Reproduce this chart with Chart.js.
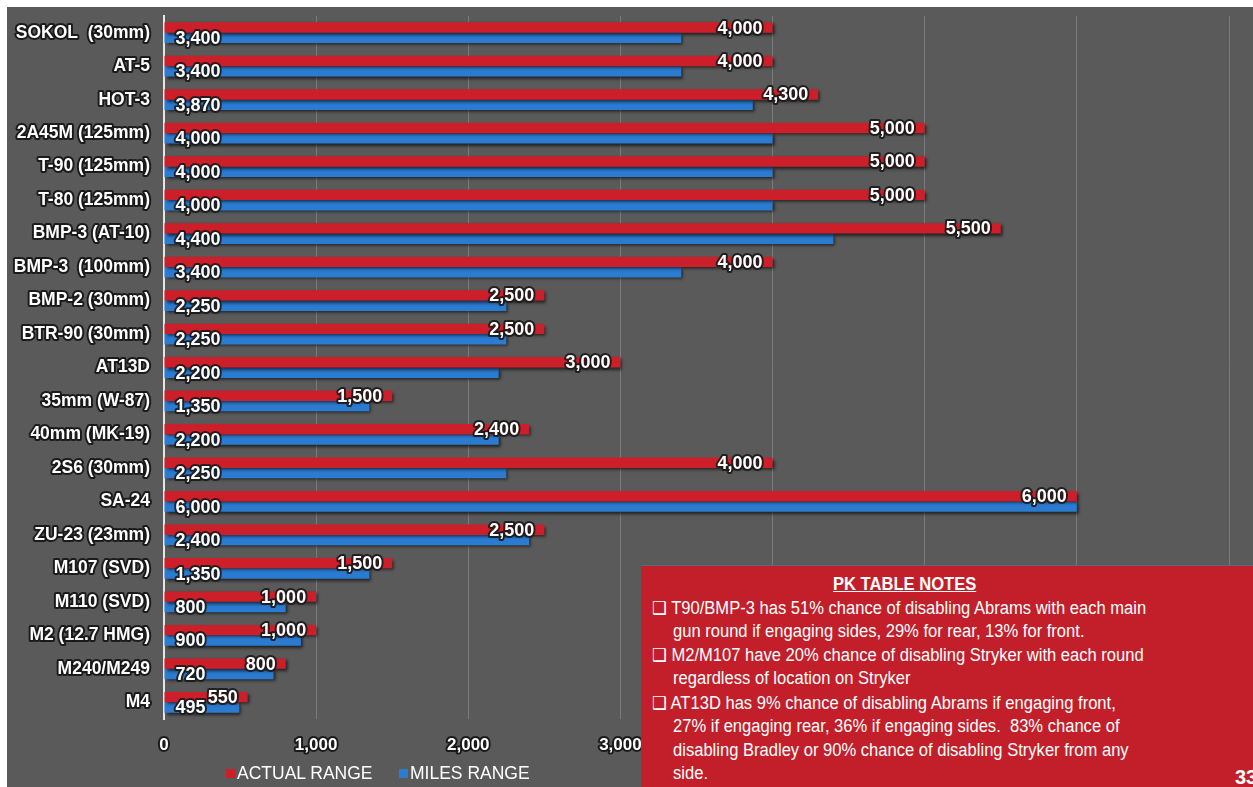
<!DOCTYPE html>
<html>
<head>
<meta charset="utf-8">
<script src="https://cdn.jsdelivr.net/npm/chart.js@4.4.1/dist/chart.umd.min.js"></script>
<style>
  html, body { margin: 0; padding: 0; background: #ffffff; }
  #wrap { position: relative; width: 1253px; height: 787px; overflow: hidden; background: #ffffff; font-family: "Liberation Sans", Arial, sans-serif; }
  #gray { position: absolute; left: 7px; top: 7px; right: 0; bottom: 0; background: #5a5a5a; }
  #cv { position: absolute; left: 0; top: 0; }
  .legend { position: absolute; top: 762px; font-size: 17.5px; color: #ffffff; white-space: nowrap; line-height: 22px; }
  .sw { display: inline-block; width: 9px; height: 9px; margin-right: 2px; vertical-align: 1px; }
  #notes { position: absolute; left: 641px; top: 565px; width: 640px; height: 240px; background: #c21f2a; border-top: 1px solid #4e6f73; color: #ffffff; }
  .ln { position: absolute; left: 0; white-space: nowrap; font-size: 18px; line-height: 22px; transform: scaleX(0.92); transform-origin: 0 50%; }
  .ttl { font-weight: bold; text-decoration: underline; }
  .bul { font-family: "DejaVu Sans", sans-serif; font-size: 18px; }
  #pg { position: absolute; left: 1235px; top: 766px; font-weight: bold; font-size: 20px; color: #fff; }
</style>
</head>
<body>
<div id="wrap">
  <div id="gray"></div>
  <canvas id="cv" width="1253" height="787"></canvas>
  <div class="legend" style="left:226px;"><span class="sw" style="background:#cc1f2a"></span>ACTUAL RANGE</div>
  <div class="legend" style="left:399px;"><span class="sw" style="background:#2b7bd0"></span>MILES RANGE</div>
  <div id="notes">
    <div class="ln ttl" style="left:192px; top:7px;">PK TABLE NOTES</div>
    <div class="ln" style="left:11px; top:31px;"><span class="bul">❑</span> T90/BMP-3 has 51% chance of disabling Abrams with each main</div>
    <div class="ln" style="left:32px; top:54px;">gun round if engaging sides, 29% for rear, 13% for front.</div>
    <div class="ln" style="left:11px; top:78px;"><span class="bul">❑</span> M2/M107 have 20% chance of disabling Stryker with each round</div>
    <div class="ln" style="left:32px; top:101px;">regardless of location on Stryker</div>
    <div class="ln" style="left:11px; top:126px;"><span class="bul">❑</span> AT13D has 9% chance of disabling Abrams if engaging front,</div>
    <div class="ln" style="left:32px; top:149px;">27% if engaging rear, 36% if engaging sides.&nbsp; 83% chance of</div>
    <div class="ln" style="left:32px; top:173px;">disabling Bradley or 90% chance of disabling Stryker from any</div>
    <div class="ln" style="left:32px; top:196px;">side.</div>
  </div>
  <div id="pg">33</div>
</div>
<script>
const categories = [
  "SOKOL  (30mm)", "AT-5", "HOT-3", "2A45M (125mm)", "T-90 (125mm)", "T-80 (125mm)",
  "BMP-3 (AT-10)", "BMP-3  (100mm)", "BMP-2 (30mm)", "BTR-90 (30mm)", "AT13D",
  "35mm (W-87)", "40mm (MK-19)", "2S6 (30mm)", "SA-24", "ZU-23 (23mm)",
  "M107 (SVD)", "M110 (SVD)", "M2 (12.7 HMG)", "M240/M249", "M4"
];
const actualRange = [4000, 4000, 4300, 5000, 5000, 5000, 5500, 4000, 2500, 2500, 3000,
  1500, 2400, 4000, 6000, 2500, 1500, 1000, 1000, 800, 550];
const milesRange = [3400, 3400, 3870, 4000, 4000, 4000, 4400, 3400, 2250, 2250, 2200,
  1350, 2200, 2250, 6000, 2400, 1350, 800, 900, 720, 495];
const xTicks = { min: 0, max: 7000, step: 1000 };
const seriesNames = ["ACTUAL RANGE", "MILES RANGE"];

const fmt = v => Number(v).toLocaleString('en-US');

const roundJoins = {
  id: 'roundJoins',
  beforeDraw(chart) { chart.ctx.lineJoin = 'round'; chart.ctx.miterLimit = 2; }
};

const shadowAndLabels = {
  id: 'shadowAndLabels',
  beforeDatasetsDraw(chart) {
    const ctx = chart.ctx;
    ctx.save();
    ctx.shadowColor = 'rgba(0,0,0,0.65)';
    ctx.shadowOffsetX = 2;
    ctx.shadowOffsetY = 2;
    ctx.shadowBlur = 3;
  },
  afterDatasetsDraw(chart) {
    const ctx = chart.ctx;
    ctx.restore();
    ctx.save();
    ctx.font = 'bold 18px "Liberation Sans", Arial, sans-serif';
    ctx.textBaseline = 'middle';
    ctx.lineJoin = 'round';
    chart.data.datasets.forEach((ds, i) => {
      const meta = chart.getDatasetMeta(i);
      meta.data.forEach((bar, j) => {
        const p = bar.getProps(['x', 'y', 'base'], true);
        const txt = fmt(ds.data[j]);
        let tx;
        if (i === 0) { ctx.textAlign = 'right'; tx = p.x - 10; }
        else { ctx.textAlign = 'left'; tx = p.base + 11; }
        const ty = p.y + 1;
        ctx.lineWidth = 4;
        ctx.strokeStyle = 'rgba(25,25,25,0.9)';
        ctx.strokeText(txt, tx, ty);
        ctx.fillStyle = '#ffffff';
        ctx.fillText(txt, tx, ty);
      });
    });
    ctx.restore();
  }
};

new Chart(document.getElementById('cv'), {
  type: 'bar',
  data: {
    labels: categories,
    datasets: [
      { label: seriesNames[0], data: actualRange, backgroundColor: '#cc1f2a', categoryPercentage: 0.62, barPercentage: 1.0 },
      { label: seriesNames[1], data: milesRange, backgroundColor: '#2b7bd0', categoryPercentage: 0.62, barPercentage: 1.0 }
    ]
  },
  options: {
    indexAxis: 'y',
    responsive: false,
    animation: false,
    layout: { padding: { top: 16, right: 24, left: 0, bottom: 0 } },
    plugins: { legend: { display: false }, tooltip: { enabled: false } },
    scales: {
      x: {
        min: xTicks.min, max: xTicks.max,
        afterFit(s) { s.height = 68; s.paddingLeft = 0; s.paddingRight = 0; },
        grid: { color: '#7b7b7b', lineWidth: 1, drawTicks: false },
        border: { display: false },
        ticks: {
          stepSize: xTicks.step,
          padding: 16,
          color: '#ffffff',
          font: { family: '"Liberation Sans", Arial, sans-serif', size: 17, weight: 'bold' },
          textStrokeColor: 'rgba(20,20,20,0.9)',
          textStrokeWidth: 4,
          callback: v => fmt(v)
        }
      },
      y: {
        afterFit(s) { s.width = 164; s.paddingTop = 0; s.paddingBottom = 0; },
        grid: { display: false, drawTicks: false },
        border: { display: true, color: '#e6e6e6', width: 2 },
        ticks: {
          padding: 14,
          color: '#ffffff',
          autoSkip: false,
          font: { family: '"Liberation Sans", Arial, sans-serif', size: 17.5, weight: 'bold' },
          textStrokeColor: 'rgba(20,20,20,0.9)',
          textStrokeWidth: 4
        }
      }
    }
  },
  plugins: [roundJoins, shadowAndLabels]
});
</script>
</body>
</html>
